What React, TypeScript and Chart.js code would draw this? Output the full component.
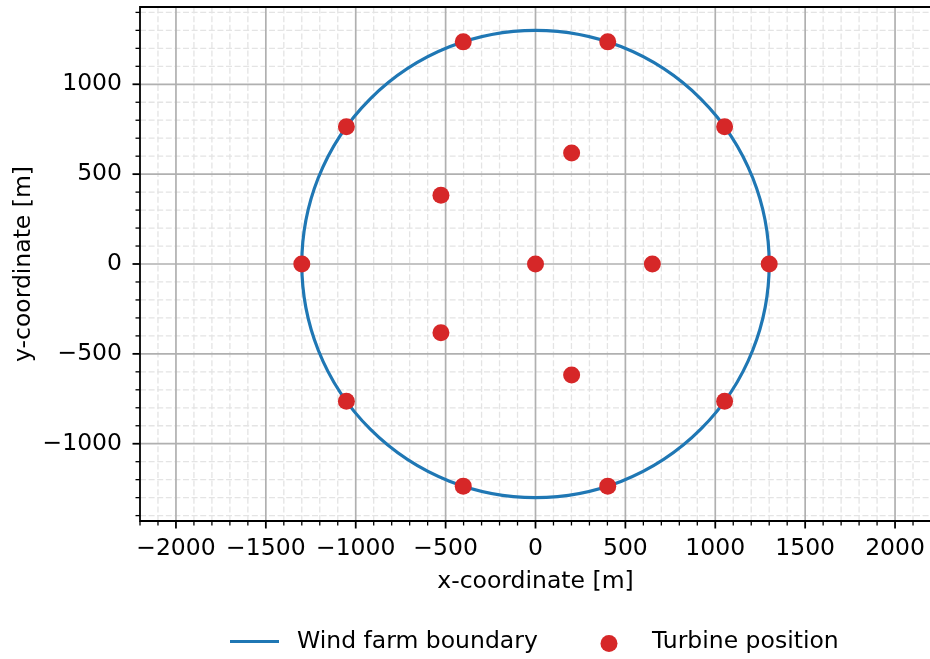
import { useEffect, useRef } from 'react';
import { Chart, registerables } from 'chart.js';

Chart.register(...registerables);

// Turbine layout [m]: outer ring, inner ring, centre turbine
const turbineX = [1300, 1052, 402, -402, -1052, -1300, -1052, -402, 402, 1052, 650, 201, -526, -526, 201, 0];
const turbineY = [0, 764, 1236, 1236, 764, 0, -764, -1236, -1236, -764, 0, 618, 382, -382, -618, 0];

// Circular wind farm boundary [m]
const boundaryCenter = [0, 0];
const boundaryRadius = 1300;

// Axis limits and ticks [m]
const xLimits = [-2200, 2200];
const yLimits = [-1430, 1430];
const xMajorTicks = [-2000, -1500, -1000, -500, 0, 500, 1000, 1500, 2000];
const yMajorTicks = [-1000, -500, 0, 500, 1000];
const minorStep = 100;

const legendLabels = ['Wind farm boundary', 'Turbine position'];

const BLUE = '#1f77b4';
const RED = '#d62728';
const MAJOR_GRID = '#b0b0b0';
const MINOR_GRID = '#e4e4e4';
const FONT_FAMILY = '"DejaVu Sans", sans-serif';
const FONT_SIZE = 23.5;

const fmt = (v: number) => (v < 0 ? '\u2212' + Math.abs(v) : String(v));

function minorValues(lo: number, hi: number): number[] {
  const out: number[] = [];
  for (let v = Math.ceil(lo / minorStep) * minorStep; v <= hi; v += minorStep) out.push(v);
  return out;
}

const axesPlugin = {
  id: 'farmAxes',
  beforeDatasetsDraw(chart: any) {
    const { ctx, chartArea: a, scales } = chart;
    const xs = scales.x;
    const ys = scales.y;
    ctx.save();
    ctx.beginPath();
    ctx.rect(a.left, a.top, a.right - a.left, a.bottom - a.top);
    ctx.clip();

    // minor grid (dashed)
    ctx.strokeStyle = MINOR_GRID;
    ctx.lineWidth = 1.3;
    ctx.setLineDash([6, 2.6]);
    for (const v of minorValues(xLimits[0], xLimits[1])) {
      if (xMajorTicks.includes(v)) continue;
      const p = xs.getPixelForValue(v);
      ctx.beginPath();
      ctx.moveTo(p, a.bottom);
      ctx.lineTo(p, a.top);
      ctx.stroke();
    }
    for (const v of minorValues(yLimits[0], yLimits[1])) {
      if (yMajorTicks.includes(v)) continue;
      const p = ys.getPixelForValue(v);
      ctx.beginPath();
      ctx.moveTo(a.left, p);
      ctx.lineTo(a.right, p);
      ctx.stroke();
    }

    // major grid
    ctx.setLineDash([]);
    ctx.strokeStyle = MAJOR_GRID;
    ctx.lineWidth = 1.7;
    for (const v of xMajorTicks) {
      const p = xs.getPixelForValue(v);
      ctx.beginPath();
      ctx.moveTo(p, a.bottom);
      ctx.lineTo(p, a.top);
      ctx.stroke();
    }
    for (const v of yMajorTicks) {
      const p = ys.getPixelForValue(v);
      ctx.beginPath();
      ctx.moveTo(a.left, p);
      ctx.lineTo(a.right, p);
      ctx.stroke();
    }

    // boundary circle
    const cx = xs.getPixelForValue(boundaryCenter[0]);
    const cy = ys.getPixelForValue(boundaryCenter[1]);
    const rx = Math.abs(xs.getPixelForValue(boundaryCenter[0] + boundaryRadius) - cx);
    const ry = Math.abs(ys.getPixelForValue(boundaryCenter[1] + boundaryRadius) - cy);
    ctx.strokeStyle = BLUE;
    ctx.lineWidth = 3.2;
    ctx.beginPath();
    ctx.ellipse(cx, cy, rx, ry, 0, 0, Math.PI * 2);
    ctx.stroke();
    ctx.restore();
  },
  afterDatasetsDraw(chart: any) {
    const { ctx, chartArea: a, scales } = chart;
    const xs = scales.x;
    const ys = scales.y;
    ctx.save();
    ctx.strokeStyle = '#000';

    // minor ticks
    ctx.lineWidth = 1.3;
    for (const v of minorValues(xLimits[0], xLimits[1])) {
      if (xMajorTicks.includes(v)) continue;
      const p = xs.getPixelForValue(v);
      ctx.beginPath();
      ctx.moveTo(p, a.bottom);
      ctx.lineTo(p, a.bottom + 4.5);
      ctx.stroke();
    }
    for (const v of minorValues(yLimits[0], yLimits[1])) {
      if (yMajorTicks.includes(v)) continue;
      const p = ys.getPixelForValue(v);
      ctx.beginPath();
      ctx.moveTo(a.left, p);
      ctx.lineTo(a.left - 4.5, p);
      ctx.stroke();
    }

    // major ticks
    ctx.lineWidth = 1.8;
    for (const v of xMajorTicks) {
      const p = xs.getPixelForValue(v);
      ctx.beginPath();
      ctx.moveTo(p, a.bottom);
      ctx.lineTo(p, a.bottom + 7.5);
      ctx.stroke();
    }
    for (const v of yMajorTicks) {
      const p = ys.getPixelForValue(v);
      ctx.beginPath();
      ctx.moveTo(a.left, p);
      ctx.lineTo(a.left - 7.5, p);
      ctx.stroke();
    }

    // spines
    ctx.lineWidth = 1.8;
    ctx.lineCap = 'square';
    ctx.beginPath();
    ctx.moveTo(a.left, a.top);
    ctx.lineTo(a.right, a.top);
    ctx.lineTo(a.right, a.bottom);
    ctx.lineTo(a.left, a.bottom);
    ctx.closePath();
    ctx.stroke();
    ctx.restore();
  },
  afterDraw(chart: any) {
    const { ctx } = chart;
    const y = 641.5;
    ctx.save();
    ctx.strokeStyle = BLUE;
    ctx.lineWidth = 3.2;
    ctx.beginPath();
    ctx.moveTo(230, y);
    ctx.lineTo(279, y);
    ctx.stroke();

    ctx.fillStyle = RED;
    ctx.beginPath();
    ctx.arc(609, y + 2, 8.5, 0, Math.PI * 2);
    ctx.fill();

    ctx.fillStyle = '#000';
    ctx.font = `${FONT_SIZE}px ${FONT_FAMILY}`;
    ctx.textBaseline = 'middle';
    ctx.textAlign = 'left';
    ctx.fillText(legendLabels[0], 297, y);
    ctx.fillText(legendLabels[1], 652, y);
    ctx.restore();
  },
};

export default function App() {
  const canvasRef = useRef<HTMLCanvasElement | null>(null);

  useEffect(() => {
    document.body.style.margin = '0';
    const canvas = canvasRef.current;
    if (!canvas) return;
    const font = { family: FONT_FAMILY, size: FONT_SIZE };
    const chart = new Chart(canvas, {
      type: 'scatter',
      data: {
        datasets: [
          {
            label: legendLabels[1],
            data: turbineX.map((x, i) => ({ x, y: turbineY[i] })),
            backgroundColor: RED,
            borderWidth: 0,
            pointRadius: 8.5,
            pointHoverRadius: 8.5,
          },
        ],
      },
      options: {
        animation: false,
        responsive: false,
        devicePixelRatio: 1,
        layout: { autoPadding: false, padding: { top: 7, right: 1, bottom: 0, left: 0 } },
        plugins: {
          legend: { display: false },
          tooltip: { enabled: false },
        },
        scales: {
          x: {
            type: 'linear',
            min: xLimits[0],
            max: xLimits[1],
            afterBuildTicks: (s: any) => {
              s.ticks = xMajorTicks.map((value) => ({ value }));
            },
            afterFit: (s: any) => {
              s.height = 138;
              s.paddingLeft = 0;
              s.paddingRight = 0;
            },
            grid: { display: false, drawTicks: false },
            border: { display: false },
            ticks: {
              callback: (v: any) => fmt(Number(v)),
              font,
              color: '#000',
              padding: 14,
              maxRotation: 0,
              autoSkip: false,
            },
            title: {
              display: true,
              text: 'x-coordinate [m]',
              font,
              color: '#000',
              padding: { top: 0, bottom: 63 },
            },
          },
          y: {
            type: 'linear',
            min: yLimits[0],
            max: yLimits[1],
            afterBuildTicks: (s: any) => {
              s.ticks = yMajorTicks.map((value) => ({ value }));
            },
            afterFit: (s: any) => {
              s.width = 140;
              s.paddingTop = 0;
              s.paddingBottom = 0;
            },
            grid: { display: false, drawTicks: false },
            border: { display: false },
            ticks: {
              callback: (v: any) => fmt(Number(v)),
              font,
              color: '#000',
              padding: 18,
              autoSkip: false,
            },
            title: {
              display: true,
              text: 'y-coordinate [m]',
              font,
              color: '#000',
              padding: { top: 10, bottom: 0 },
            },
          },
        },
      },
      plugins: [axesPlugin],
    });
    return () => chart.destroy();
  }, []);

  return (
    <div style={{ width: 930, height: 659, overflow: 'hidden', background: '#fff' }}>
      <canvas ref={canvasRef} width={932} height={659} style={{ display: 'block' }} />
    </div>
  );
}
